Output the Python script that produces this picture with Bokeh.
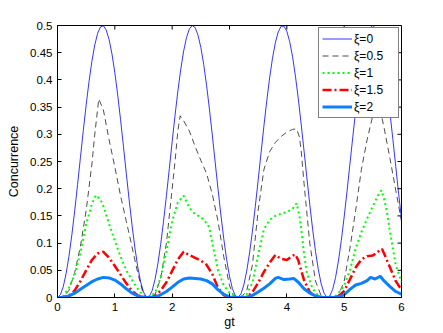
from math import pi
from bokeh.plotting import figure
from bokeh.models import Range1d, FixedTicker
from bokeh.embed import file_html
from bokeh.resources import INLINE

# ---------------- data ----------------
x_ticks = [0, 1, 2, 3, 4, 5, 6]
x_tick_labels = ["0", "1", "2", "3", "4", "5", "6"]
y_ticks = [0, 0.05, 0.1, 0.15, 0.2, 0.25, 0.3, 0.35, 0.4, 0.45, 0.5]
y_tick_labels = ["0", "0.05", "0.1", "0.15", "0.2", "0.25", "0.3", "0.35", "0.4", "0.45", "0.5"]

series_labels = ["ξ=0", "ξ=0.5", "ξ=1", "ξ=1.5", "ξ=2"]

# xi = 0
x_xi0 = [0.00, 0.05, 0.10, 0.15, 0.20, 0.25, 0.30, 0.35, 0.40, 0.45,
         0.50, 0.55, 0.60, 0.65, 0.70, 0.75, 0.80, 0.85, 0.90, 0.95,
         1.00, 1.05, 1.10, 1.15, 1.20, 1.25, 1.30, 1.35, 1.40, 1.45,
         1.50, 1.55, 1.60, 1.65, 1.70, 1.75, 1.80, 1.85, 1.90, 1.95,
         2.00, 2.05, 2.10, 2.15, 2.20, 2.25, 2.30, 2.35, 2.40, 2.45,
         2.50, 2.55, 2.60, 2.65, 2.70, 2.75, 2.80, 2.85, 2.90, 2.95,
         3.00, 3.05, 3.10, 3.15, 3.20, 3.25, 3.30, 3.35, 3.40, 3.45,
         3.50, 3.55, 3.60, 3.65, 3.70, 3.75, 3.80, 3.85, 3.90, 3.95,
         4.00, 4.05, 4.10, 4.15, 4.20, 4.25, 4.30, 4.35, 4.40, 4.45,
         4.50, 4.55, 4.60, 4.65, 4.70, 4.75, 4.80, 4.85, 4.90, 4.95,
         5.00, 5.05, 5.10, 5.15, 5.20, 5.25, 5.30, 5.35, 5.40, 5.45,
         5.50, 5.55, 5.60, 5.65, 5.70, 5.75, 5.80, 5.85, 5.90, 5.95,
         6.00]
c_xi0 = [0.0000, 0.0050, 0.0197, 0.0437, 0.0758, 0.1149, 0.1594, 0.2075, 0.2573, 0.3068,
         0.3540, 0.3971, 0.4343, 0.4642, 0.4856, 0.4975, 0.4996, 0.4917, 0.4742, 0.4477,
         0.4134, 0.3726, 0.3268, 0.2780, 0.2281, 0.1791, 0.1329, 0.0913, 0.0561, 0.0286,
         0.0100, 0.0009, 0.0017, 0.0124, 0.0327, 0.0615, 0.0979, 0.1404, 0.1872, 0.2365,
         0.2864, 0.3348, 0.3798, 0.4197, 0.4528, 0.4778, 0.4937, 0.4999, 0.4962, 0.4826,
         0.4598, 0.4286, 0.3902, 0.3463, 0.2986, 0.2489, 0.1993, 0.1516, 0.1079, 0.0699,
         0.0390, 0.0166, 0.0035, 0.0001, 0.0068, 0.0231, 0.0485, 0.0820, 0.1221, 0.1673,
         0.2158, 0.2657, 0.3150, 0.3616, 0.4038, 0.4399, 0.4684, 0.4882, 0.4985, 0.4989,
         0.4894, 0.4703, 0.4425, 0.4070, 0.3652, 0.3188, 0.2697, 0.2198, 0.1711, 0.1255,
         0.0849, 0.0509, 0.0248, 0.0077, 0.0003, 0.0028, 0.0152, 0.0369, 0.0672, 0.1047,
         0.1480, 0.1954, 0.2449, 0.2947, 0.3426, 0.3869, 0.4258, 0.4576, 0.4811, 0.4954,
         0.5000, 0.4946, 0.4794, 0.4551, 0.4226, 0.3832, 0.3385, 0.2903, 0.2405, 0.1910,
         0.1440]

# xi = 0.5
x_xi05 = [0, 0.1, 0.2, 0.3, 0.4, 0.5, 0.6, 0.65, 0.72, 0.8, 0.9, 1.0, 1.1, 1.2, 1.3, 1.4, 1.5, 1.57,
          1.6, 1.7, 1.8, 1.9, 2.0, 2.05, 2.1, 2.14, 2.2, 2.3, 2.4, 2.5, 2.6, 2.7, 2.8, 2.9, 3.0, 3.07, 3.14,
          3.2, 3.3, 3.4, 3.5, 3.6, 3.7, 3.8, 3.9, 4.0, 4.1, 4.17, 4.22, 4.25, 4.3, 4.4, 4.5, 4.6, 4.71,
          4.8, 4.9, 5.0, 5.1, 5.2, 5.3, 5.4, 5.5, 5.57, 5.65, 5.7, 5.8, 5.9, 6.0]
c_xi05 = [0, 0.001, 0.013, 0.046, 0.094, 0.16, 0.245, 0.30, 0.365, 0.345, 0.29, 0.24, 0.187, 0.14, 0.093, 0.045, 0.005, 0,
          0, 0.005, 0.035, 0.10, 0.20, 0.25, 0.307, 0.334, 0.325, 0.306, 0.278, 0.252, 0.228, 0.19, 0.14, 0.075, 0.022, 0.004, 0,
          0, 0.012, 0.06, 0.16, 0.235, 0.268, 0.285, 0.296, 0.304, 0.309, 0.31, 0.295, 0.27, 0.21, 0.10, 0.03, 0.003, 0,
          0, 0.004, 0.03, 0.09, 0.16, 0.235, 0.29, 0.335, 0.35, 0.335, 0.31, 0.255, 0.197, 0.14]

# xi = 1
x_xi1 = [0, 0.1, 0.2, 0.3, 0.4, 0.5, 0.6, 0.67, 0.75, 0.8, 0.9, 1.0, 1.1, 1.2, 1.3, 1.4, 1.5, 1.57,
         1.7, 1.8, 1.9, 2.0, 2.1, 2.2, 2.3, 2.4, 2.5, 2.6, 2.65, 2.7, 2.8, 2.9, 3.0, 3.14,
         3.3, 3.4, 3.5, 3.6, 3.7, 3.8, 3.9, 4.0, 4.1, 4.17, 4.22, 4.27, 4.3, 4.35, 4.45, 4.55, 4.71,
         4.85, 4.9, 5.0, 5.1, 5.2, 5.3, 5.4, 5.5, 5.6, 5.65, 5.7, 5.75, 5.8, 5.9, 6.0]
c_xi1 = [0, 0.003, 0.018, 0.042, 0.082, 0.135, 0.172, 0.188, 0.18, 0.168, 0.135, 0.104, 0.075, 0.05, 0.032, 0.016, 0.003, 0,
         0.008, 0.037, 0.085, 0.14, 0.175, 0.187, 0.165, 0.153, 0.148, 0.137, 0.128, 0.10, 0.05, 0.022, 0.009, 0,
         0.006, 0.027, 0.078, 0.125, 0.143, 0.15, 0.154, 0.157, 0.163, 0.173, 0.15, 0.11, 0.08, 0.045, 0.016, 0.003, 0,
         0.003, 0.008, 0.022, 0.05, 0.09, 0.12, 0.145, 0.168, 0.19, 0.197, 0.18, 0.155, 0.12, 0.06, 0.028]

# xi = 1.5
x_xi15 = [0, 0.1, 0.2, 0.3, 0.4, 0.5, 0.6, 0.7, 0.8, 0.9, 1.0, 1.1, 1.2, 1.3, 1.4, 1.5, 1.57,
          1.7, 1.8, 1.9, 2.0, 2.1, 2.2, 2.3, 2.4, 2.5, 2.6, 2.7, 2.8, 2.9, 3.0, 3.14,
          3.3, 3.4, 3.5, 3.6, 3.7, 3.8, 3.9, 4.0, 4.1, 4.15, 4.2, 4.3, 4.4, 4.5, 4.6, 4.71,
          4.8, 4.9, 5.0, 5.1, 5.2, 5.3, 5.4, 5.5, 5.6, 5.66, 5.7, 5.8, 5.9, 6.0]
c_xi15 = [0, 0.0005, 0.003, 0.013, 0.03, 0.05, 0.069, 0.081, 0.084, 0.073, 0.058, 0.042, 0.026, 0.012, 0.004, 0.0005, 0,
          0.002, 0.013, 0.028, 0.049, 0.07, 0.084, 0.078, 0.073, 0.068, 0.06, 0.043, 0.018, 0.004, 0.0005, 0,
          0.001, 0.01, 0.027, 0.047, 0.064, 0.078, 0.071, 0.069, 0.077, 0.079, 0.068, 0.032, 0.01, 0.002, 0.0, 0,
          0, 0.002, 0.012, 0.033, 0.055, 0.07, 0.076, 0.077, 0.085, 0.089, 0.08, 0.055, 0.03, 0.014]

# xi = 2
x_xi2 = [0, 0.1, 0.2, 0.3, 0.4, 0.5, 0.6, 0.7, 0.8, 0.9, 1.0, 1.1, 1.2, 1.3, 1.4, 1.5, 1.57,
         1.7, 1.8, 1.9, 2.0, 2.1, 2.2, 2.3, 2.4, 2.5, 2.6, 2.7, 2.8, 2.9, 3.0, 3.14,
         3.3, 3.4, 3.5, 3.6, 3.7, 3.8, 3.85, 3.95, 4.05, 4.12, 4.2, 4.3, 4.4, 4.5, 4.6, 4.71,
         4.8, 4.9, 5.0, 5.1, 5.2, 5.3, 5.4, 5.46, 5.54, 5.63, 5.7, 5.8, 5.9, 6.0]
c_xi2 = [0, 0.0005, 0.003, 0.008, 0.015, 0.022, 0.029, 0.034, 0.037, 0.036, 0.032, 0.025, 0.016, 0.008, 0.003, 0.0005, 0,
         0.0005, 0.005, 0.011, 0.019, 0.028, 0.034, 0.036, 0.035, 0.034, 0.031, 0.025, 0.014, 0.006, 0.001, 0,
         0.0005, 0.004, 0.01, 0.017, 0.025, 0.035, 0.037, 0.033, 0.034, 0.035, 0.028, 0.016, 0.008, 0.003, 0.0005, 0,
         0, 0.001, 0.005, 0.015, 0.023, 0.026, 0.031, 0.037, 0.034, 0.039, 0.03, 0.02, 0.011, 0.006]

# ---------------- figure ----------------
FONT = "Liberation Sans"
x_min, x_max = x_ticks[0], x_ticks[-1]
y_min, y_max = y_ticks[0], y_ticks[-1]

p = figure(width=443, height=333, output_backend="svg", toolbar_location=None,
           x_range=Range1d(x_min, x_max), y_range=Range1d(y_min, y_max),
           min_border_left=57, min_border_right=42, min_border_top=25, min_border_bottom=36,
           x_axis_label="gt", y_axis_label="Concurrence")
p.background_fill_color = "white"
p.border_fill_color = "white"
p.outline_line_color = "black"
p.outline_line_width = 1
p.xgrid.visible = False
p.ygrid.visible = False

p.line(x_xi0, c_xi0, line_color="#0000ff", line_width=0.8, legend_label=series_labels[0])
p.line(x_xi05, c_xi05, line_color="#000000", line_width=0.7, line_dash="6 4", legend_label=series_labels[1])
p.line(x_xi1, c_xi1, line_color="#00ff00", line_width=2, line_dash="2 3", legend_label=series_labels[2])
p.line(x_xi15, c_xi15, line_color="#ff0000", line_width=2.5, line_dash="9 3 2 3", legend_label=series_labels[3])
p.line(x_xi2, c_xi2, line_color="#0a80ff", line_width=3, legend_label=series_labels[4])

# inward ticks on the top and right edges of the box
p.ray(x=x_ticks, y=[y_max] * len(x_ticks), length=4, length_units="screen",
      angle=-pi / 2, line_color="black", line_width=1)
p.ray(x=[x_max] * len(y_ticks), y=y_ticks, length=4, length_units="screen",
      angle=pi, line_color="black", line_width=1)


def style_axis(ax, ticks, labels):
    ax.ticker = FixedTicker(ticks=ticks)
    ax.major_label_overrides = {t: s for t, s in zip(ticks, labels)}
    ax.major_tick_in = 4
    ax.major_tick_out = 0
    ax.minor_tick_line_color = None
    ax.axis_line_color = "black"
    ax.major_tick_line_color = "black"
    ax.major_label_text_font = FONT
    ax.major_label_text_color = "black"
    ax.major_label_text_font_size = "11.5px"
    ax.major_label_standoff = 5
    ax.axis_label_text_font = FONT
    ax.axis_label_text_font_size = "12.5px"
    ax.axis_label_text_font_style = "normal"
    ax.axis_label_text_color = "black"


style_axis(p.xaxis[0], x_ticks, x_tick_labels)
style_axis(p.yaxis[0], y_ticks, y_tick_labels)
p.xaxis[0].axis_label_standoff = 1
p.yaxis[0].axis_label_standoff = 6

lg = p.legend[0]
lg.location = (261, 179)
lg.border_line_color = "black"
lg.border_line_width = 1
lg.background_fill_color = "white"
lg.background_fill_alpha = 1
lg.label_text_font = FONT
lg.label_text_font_size = "12px"
lg.label_text_color = "black"
lg.padding = 3
lg.spacing = 2
lg.margin = 0
lg.glyph_width = 30
lg.glyph_height = 15
lg.label_height = 15
lg.label_width = 41
lg.label_standoff = 2

open("out.html", "w").write(file_html(p, INLINE))
